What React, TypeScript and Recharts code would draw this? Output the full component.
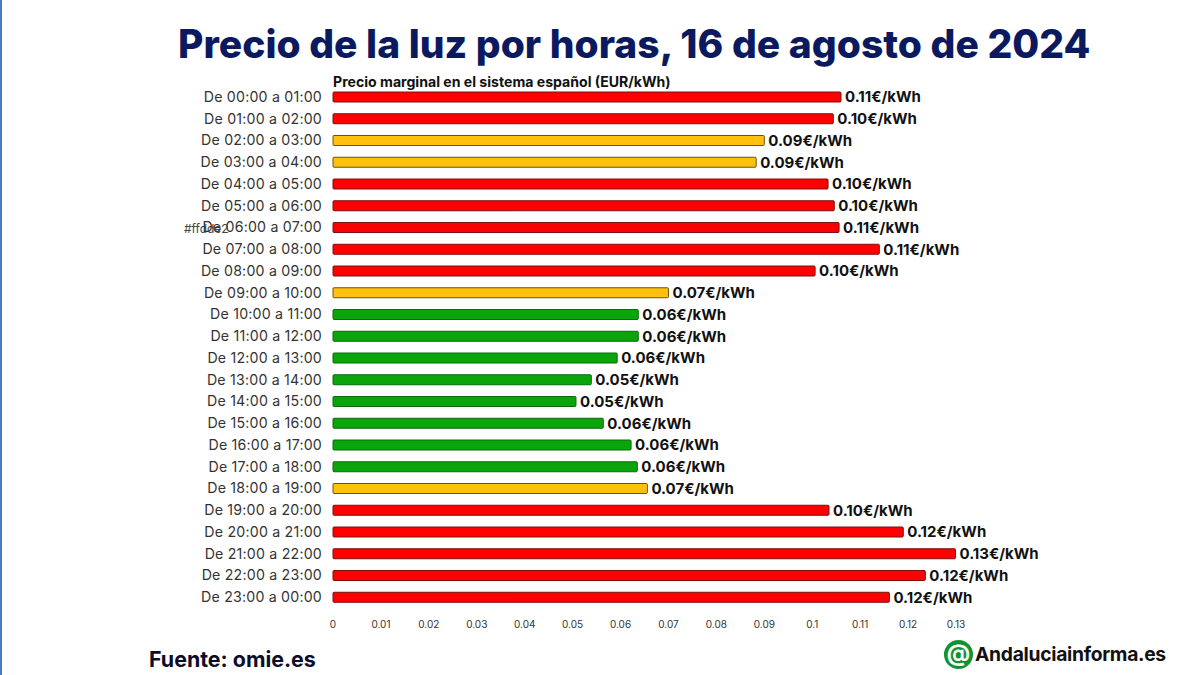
import { BarChart, Bar, XAxis, YAxis, Cell, LabelList } from 'recharts'

const HORAS = [
  'De 00:00 a 01:00', 'De 01:00 a 02:00', 'De 02:00 a 03:00', 'De 03:00 a 04:00',
  'De 04:00 a 05:00', 'De 05:00 a 06:00', 'De 06:00 a 07:00', 'De 07:00 a 08:00',
  'De 08:00 a 09:00', 'De 09:00 a 10:00', 'De 10:00 a 11:00', 'De 11:00 a 12:00',
  'De 12:00 a 13:00', 'De 13:00 a 14:00', 'De 14:00 a 15:00', 'De 15:00 a 16:00',
  'De 16:00 a 17:00', 'De 17:00 a 18:00', 'De 18:00 a 19:00', 'De 19:00 a 20:00',
  'De 20:00 a 21:00', 'De 21:00 a 22:00', 'De 22:00 a 23:00', 'De 23:00 a 00:00',
]

const PRECIOS = [
  0.106, 0.1044, 0.09, 0.0883, 0.1033, 0.1046, 0.1056, 0.114,
  0.1006, 0.07, 0.0637, 0.0637, 0.0593, 0.0539, 0.0507, 0.0564,
  0.0622, 0.0635, 0.0656, 0.1035, 0.119, 0.1299, 0.1236, 0.1161,
]

const TRAMOS = [
  'alto', 'alto', 'medio', 'medio', 'alto', 'alto', 'alto', 'alto',
  'alto', 'medio', 'bajo', 'bajo', 'bajo', 'bajo', 'bajo', 'bajo',
  'bajo', 'bajo', 'medio', 'alto', 'alto', 'alto', 'alto', 'alto',
]

const TICKS = [0, 0.01, 0.02, 0.03, 0.04, 0.05, 0.06, 0.07, 0.08, 0.09, 0.1, 0.11, 0.12, 0.13]

const COLORES: Record<string, string> = { alto: '#fe0000', medio: '#ffc10e', bajo: '#0aa50a' }
const BORDES: Record<string, string> = { alto: '#7a1010', medio: '#6b5210', bajo: '#0b6b0b' }

const FONT = 'Inter, "Noto Sans", sans-serif'

const data = HORAS.map((hora, i) => ({ hora, precio: PRECIOS[i], tramo: TRAMOS[i] }))

const abs = (left: number, top: number): React.CSSProperties => ({
  position: 'absolute',
  left,
  top,
  fontFamily: FONT,
  whiteSpace: 'nowrap',
})

export default function App() {
  return (
    <div style={{ position: 'absolute', left: 0, top: 0, width: 1200, height: 675, background: '#fff', overflow: 'hidden' }}>
      <div style={{ position: 'absolute', left: 0, top: 0, width: 2, height: 675, background: '#4a7ab8' }} />
      <div style={{ ...abs(178, 21), fontSize: 39, fontWeight: 800, color: '#0b1a5e', lineHeight: '46px', letterSpacing: 0.02 }}>
        Precio de la luz por horas, 16 de agosto de 2024
      </div>
      <div style={{ ...abs(333, 74), fontSize: 14.1, fontWeight: 700, color: '#111', lineHeight: '16px' }}>
        Precio marginal en el sistema español (EUR/kWh)
      </div>
      <div style={{ ...abs(184, 221), fontSize: 12, color: '#444', lineHeight: '15px' }}>#ffdde2</div>

      <BarChart
        width={1200}
        height={675}
        data={data}
        layout="vertical"
        barSize={10}
        margin={{ top: 86, right: 244, bottom: 37, left: 0 }}
        style={{ position: 'absolute', left: 0, top: 0 }}
      >
        <XAxis
          type="number"
          domain={[0, 0.13]}
          ticks={TICKS}
          axisLine={false}
          tickLine={false}
          tickMargin={7}
          height={30}
          tick={{ fontSize: 10, fill: '#333', fontFamily: FONT }}
        />
        <YAxis
          type="category"
          dataKey="hora"
          width={333}
          interval={0}
          axisLine={false}
          tickLine={false}
          tickMargin={5}
          tick={{ fontSize: 14.2, fill: '#333', fontFamily: FONT, letterSpacing: 0.2 }}
        />
        <Bar dataKey="precio" isAnimationActive={false} strokeWidth={1} radius={1}>
          {data.map((d) => (
            <Cell key={d.hora} fill={COLORES[d.tramo]} stroke={BORDES[d.tramo]} />
          ))}
          <LabelList
            dataKey="precio"
            position="right"
            offset={4}
            formatter={(v: number) => `${v.toFixed(2)}€/kWh`}
            style={{ fontSize: 15, fontWeight: 700, fill: '#111', fontFamily: FONT }}
          />
        </Bar>
      </BarChart>

      <div style={{ ...abs(149, 647), fontSize: 21.4, fontWeight: 700, color: '#0d0d2a', lineHeight: '24px' }}>Fuente: omie.es</div>
      <div
        style={{
          ...abs(944, 640),
          width: 29,
          height: 29,
          borderRadius: '50%',
          background: '#12922f',
          color: '#fff',
          fontSize: 23,
          fontWeight: 700,
          lineHeight: '26px',
          textAlign: 'center',
        }}
      >
        @
      </div>
      <div style={{ ...abs(975, 642), fontSize: 19.3, fontWeight: 700, color: '#111', lineHeight: '24px', letterSpacing: -0.3 }}>
        Andaluciainforma.es
      </div>
    </div>
  )
}
